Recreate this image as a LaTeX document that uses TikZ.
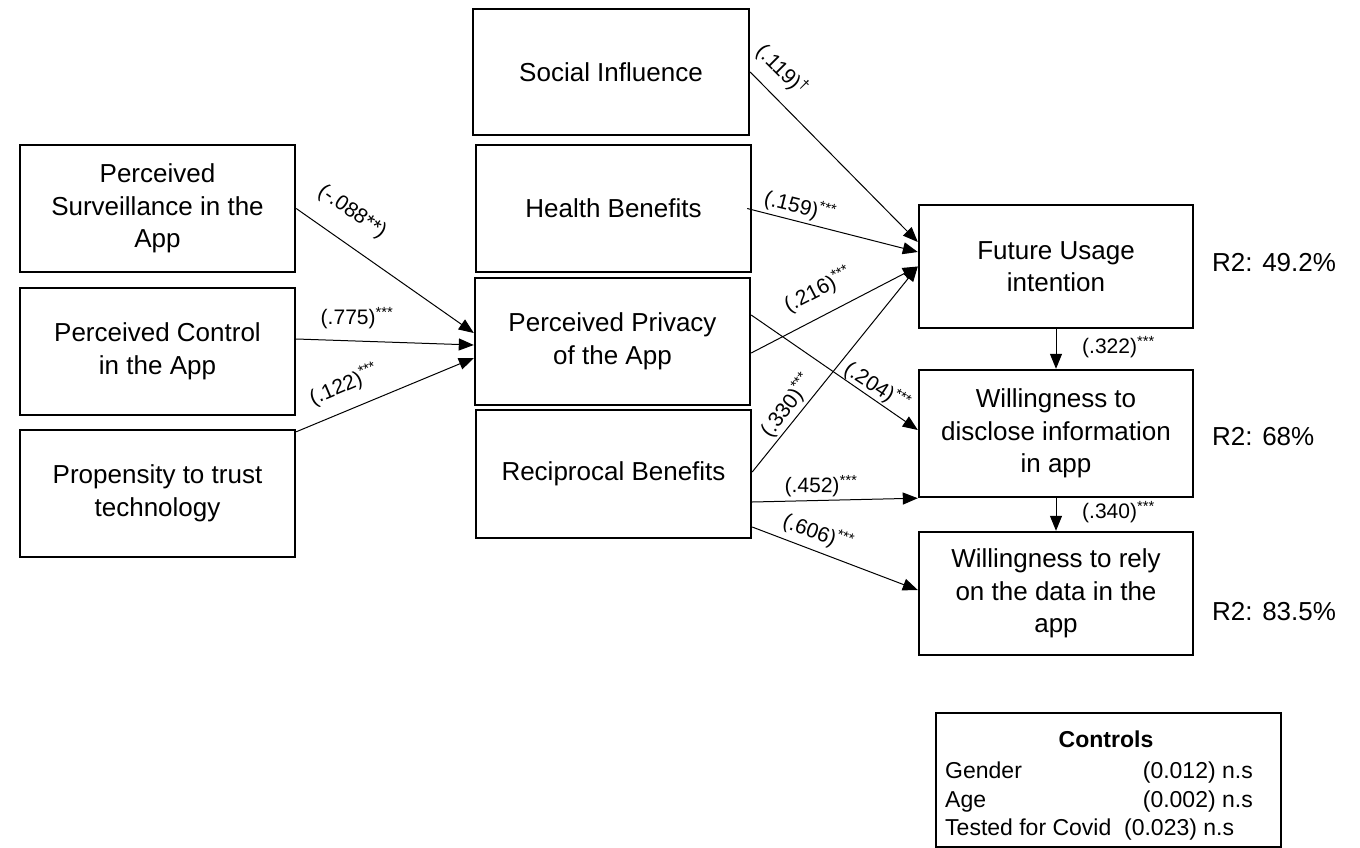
\documentclass[tikz,border=0pt]{standalone}
\usepackage{fontspec}
\setmainfont{Liberation Sans}
\usetikzlibrary{arrows.meta}
\newcommand{\sg}[1]{\textsuperscript{#1}}
\begin{document}
\begin{tikzpicture}[x=1pt,y=-1pt,
  box/.style={draw, line width=2.4pt, minimum width=275pt, minimum height=127pt, align=center, font=\fontsize{26}{32.5}\selectfont, inner sep=0pt},
  arr/.style={line width=1pt, -{Triangle[length=15pt,width=12pt]}},
  lab/.style={font=\fontsize{21}{24}\selectfont, inner sep=0pt},
  r2/.style={font=\fontsize{26}{30}\selectfont, anchor=west, inner sep=0pt},
  ctlt/.style={font=\fontsize{23}{28}\selectfont, inner sep=0pt}]
\path[use as bounding box] (0,0) rectangle (1360,848);
% left column
\node[box] (surv) at (157.5,208.5) {Perceived\\Surveillance in the\\App};
\node[box] (ctrl) at (157.5,351.5) {Perceived Control\\in the App};
\node[box] (prop) at (157.5,493.5) {Propensity to trust\\technology};
% middle column
\node[box, minimum width=276pt, minimum height=126pt] (soc) at (611,72) {Social Influence};
\node[box] (hlth) at (613.5,208.5) {Health Benefits};
\node[box] (priv) at (612.5,341.5) {Perceived Privacy\\of the App};
\node[box, minimum height=128pt] (recip) at (613.5,474) {Reciprocal Benefits};
% right column
\node[box, minimum width=274pt, minimum height=123pt] (fut) at (1056,266.5) {Future Usage\\intention};
\node[box, minimum width=274pt] (disc) at (1056,433.5) {Willingness to\\disclose information\\in app};
\node[box, minimum width=274pt, minimum height=123pt] (rely) at (1056,593.5) {Willingness to rely\\on the data in the\\app};
% arrows into privacy
\draw[arr] (surv.east) -- ([yshift=8.5pt]priv.west);
\draw[arr] ([yshift=12.5pt]ctrl.east) -- ([yshift=-3.5pt]priv.west);
\draw[arr] ([yshift=-3pt]prop.north east) -- ([yshift=-16.5pt]priv.west);
% arrows into outcomes
\draw[arr] (soc.east) -- ([yshift=24.5pt]fut.west);
\draw[arr] ([xshift=-5pt]hlth.east) -- ([yshift=14.5pt]fut.west);
\draw[arr] ([yshift=-11.5pt]priv.east) -- (fut.west);
\draw[arr] ([yshift=2pt]recip.east) -- (fut.west);
\draw[arr] ([yshift=26.5pt]priv.east) -- ([yshift=3.5pt]disc.west);
\draw[arr] ([yshift=-28pt]recip.east) -- (disc.south west);
\draw[arr] ([yshift=-53pt]recip.east) -- ([yshift=3.5pt]rely.west);
\draw[arr] (fut.south) -- (disc.north);
\draw[arr] (disc.south) -- (rely.north);
% path labels
\node[lab, rotate=-35] (l1) at (352,212) {(-.088**)};
\node[lab] (l2) at (357,318) {(.775)\sg{***}};
\node[lab, rotate=23] (l3) at (344,385) {(.122)\sg{***}};
\node[lab, rotate=-45] (l4) at (782,70) {(.119)\sg{†}};
\node[lab, rotate=-14] (l5) at (800,207) {(.159)\sg{***}};
\node[lab, rotate=27] (l6) at (818,290) {(.216)\sg{***}};
\node[lab, rotate=53] (l7) at (787,406) {(.330)\sg{***}};
\node[lab, rotate=-33] (l8) at (877,387) {(.204)\sg{***}};
\node[lab, rotate=-1] (l9) at (821,486) {(.452)\sg{***}};
\node[lab, rotate=-20] (l10) at (818,533) {(.606)\sg{***}};
\node[lab, anchor=west] (l11) at (1082,347) {(.322)\sg{***}};
\node[lab, anchor=west] (l12) at (1082,512) {(.340)\sg{***}};
% R2
\node[r2] (r1) at (1212,263) {R2: 49.2\%};
\node[r2] (r2) at (1212,437) {R2: 68\%};
\node[r2] (r3) at (1212,612) {R2: 83.5\%};
% controls
\node[draw, line width=2.4pt, minimum width=345pt, minimum height=134pt, anchor=north west, inner sep=0pt] (ctl) at (935,712) {};
\node[ctlt, anchor=base] (ct) at (1106,747) {\textbf{Controls}};
\node[ctlt, anchor=base west] (g1) at (945,778) {Gender};
\node[ctlt, anchor=base east] (g2) at (1253,778) {(0.012) n.s};
\node[ctlt, anchor=base west] (a1) at (945,807) {Age};
\node[ctlt, anchor=base east] (a2) at (1253,807) {(0.002) n.s};
\node[ctlt, anchor=base west] (t1) at (945,835) {Tested for Covid\ \ (0.023) n.s};
\end{tikzpicture}
\end{document}
